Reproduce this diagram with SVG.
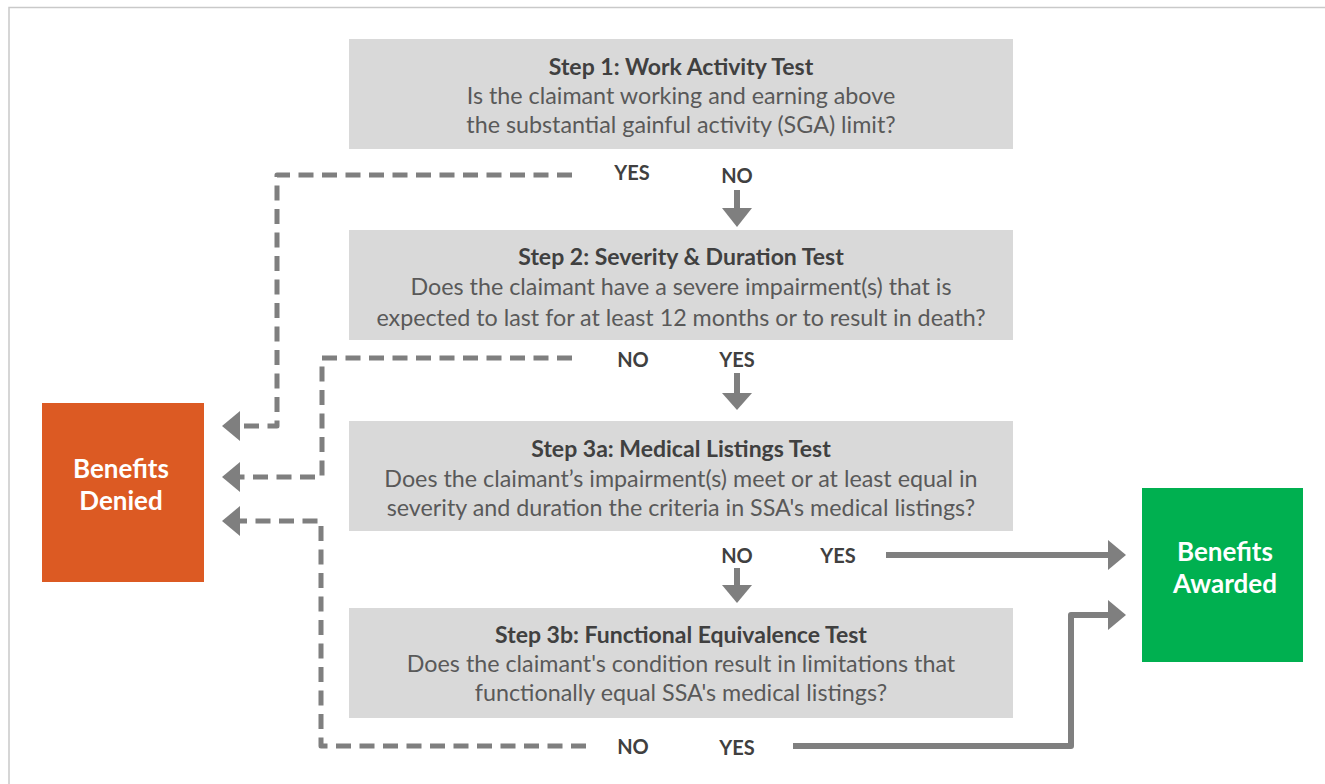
<svg xmlns="http://www.w3.org/2000/svg" width="1325" height="784" viewBox="0 0 1325 784">
<defs>
<style>
.frame{fill:none;stroke:#C9C9C9;stroke-width:1.5}
.step{fill:#D9D9D9}
.t{font-family:Lato,"Open Sans","Liberation Sans",sans-serif;text-anchor:middle}
.title{font-size:23px;font-weight:bold;fill:#404040}
.body{font-size:23.3px;fill:#595959}
.lbl{font-size:20px;font-weight:bold;fill:#404040}
.out{font-size:26px;font-weight:bold;fill:#FFFFFF}
.dash{fill:none;stroke:#7F7F7F;stroke-width:5;stroke-dasharray:15 8.5;stroke-linejoin:round}
.solid{fill:none;stroke:#7F7F7F;stroke-width:6;stroke-linejoin:round}
.head{fill:#7F7F7F}
</style>
<marker id="ah" markerUnits="userSpaceOnUse" viewBox="0 0 18 30" refX="0" refY="15" markerWidth="18" markerHeight="30" orient="auto">
<path d="M0,0 L18,15 L0,30 z" fill="#7F7F7F"/>
</marker>
</defs>
<rect width="1325" height="784" fill="#FFFFFF"/>
<path class="frame" d="M9,784 L9,7.5 L1325,7.5"/>

<g id="step1">
<rect class="step" x="349" y="39" width="664" height="110"/>
<text class="t title" x="681" y="75">Step 1: Work Activity Test</text>
<text class="t body" x="681" y="104">Is the claimant working and earning above</text>
<text class="t body" x="681" y="133">the substantial gainful activity (SGA) limit?</text>
</g>
<g id="step2">
<rect class="step" x="349" y="230" width="664" height="110"/>
<text class="t title" x="681" y="265">Step 2: Severity &amp; Duration Test</text>
<text class="t body" x="681" y="295">Does the claimant have a severe impairment(s) that is</text>
<text class="t body" x="681" y="326">expected to last for at least 12 months or to result in death?</text>
</g>
<g id="step3a">
<rect class="step" x="349" y="421" width="664" height="110"/>
<text class="t title" x="681" y="457">Step 3a: Medical Listings Test</text>
<text class="t body" x="681" y="487">Does the claimant’s impairment(s) meet or at least equal in</text>
<text class="t body" x="681" y="516">severity and duration the criteria in SSA's medical listings?</text>
</g>
<g id="step3b">
<rect class="step" x="349" y="608" width="664" height="110"/>
<text class="t title" x="681" y="643">Step 3b: Functional Equivalence Test</text>
<text class="t body" x="681" y="672">Does the claimant's condition result in limitations that</text>
<text class="t body" x="681" y="701">functionally equal SSA's medical listings?</text>
</g>
<g id="denied">
<rect x="42" y="403" width="162" height="179" fill="#DC5A23"/>
<text class="t out" x="121" y="478">Benefits</text>
<text class="t out" x="121" y="510">Denied</text>
</g>
<g id="awarded">
<rect x="1142" y="488" width="161" height="174" fill="#00B050"/>
<text class="t out" x="1225" y="561">Benefits</text>
<text class="t out" x="1225" y="593">Awarded</text>
</g>

<g id="connectors">
<path class="dash" d="M572,175 L277,175 L277,426 L240,426" marker-end="url(#ah)"/>
<path class="dash" d="M572,358 L322,358 L322,477 L240,477" marker-end="url(#ah)"/>
<path class="dash" d="M586,746 L321,746 L321,521 L240,521" marker-end="url(#ah)"/>
<path class="solid" d="M737,190 L737,209"/>
<polygon class="head" points="722,208 752,208 737,227"/>
<path class="solid" d="M737,373 L737,394"/>
<polygon class="head" points="722,393 752,393 737,410"/>
<path class="solid" d="M737,568 L737,586"/>
<polygon class="head" points="722,585 752,585 737,603"/>
<path class="solid" d="M886,555 L1108,555" marker-end="url(#ah)"/>
<path class="solid" d="M793,746 L1071,746 L1071,615 L1108,615" marker-end="url(#ah)"/>
</g>
<g id="labels">
<text class="t lbl" x="632" y="180">YES</text>
<text class="t lbl" x="737" y="183">NO</text>
<text class="t lbl" x="633" y="367">NO</text>
<text class="t lbl" x="737" y="367">YES</text>
<text class="t lbl" x="737" y="563">NO</text>
<text class="t lbl" x="838" y="563">YES</text>
<text class="t lbl" x="633" y="754">NO</text>
<text class="t lbl" x="737" y="755">YES</text>
</g>
</svg>
